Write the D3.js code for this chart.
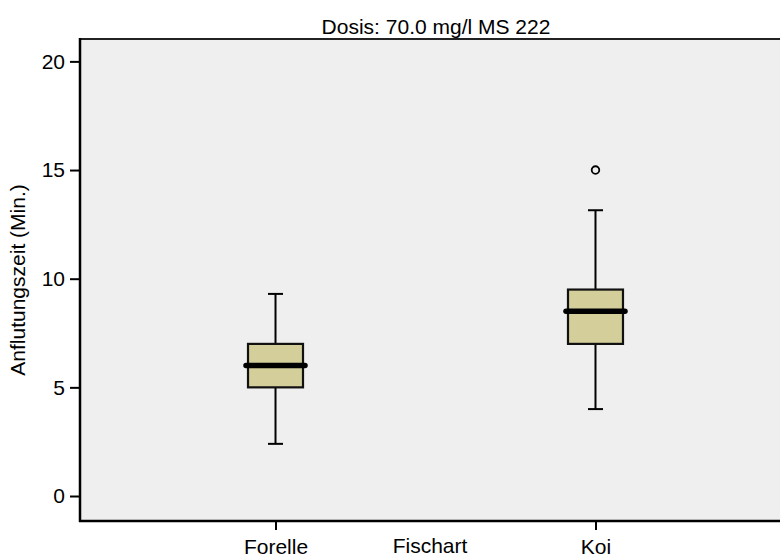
<!DOCTYPE html>
<html>
<head>
<meta charset="utf-8">
<script src="https://cdn.jsdelivr.net/npm/d3@7"></script>
<style>
  html, body { margin: 0; padding: 0; background: #ffffff; }
  svg { display: block; }
  text { font-family: "Liberation Sans", Arial, sans-serif; fill: #000; }
</style>
</head>
<body>
<svg id="chart" width="780" height="558"></svg>
<script>
// Box-plot statistics per fish species (minutes)
const categories   = ["Forelle", "Koi"];
const whiskerLow   = [2.4, 4.0];
const quartile1    = [5.0, 7.0];
const medians      = [6.0, 8.5];
const quartile3    = [7.0, 9.5];
const whiskerHigh  = [9.3, 13.15];
const outliers     = [[], [15.0]];
const yTickValues  = [0, 5, 10, 15, 20];

const titleText = "Dosis: 70.0 mg/l MS 222";
const xTitle = "Fischart";
const yTitle = "Anflutungszeit (Min.)";

const svg = d3.select("#chart");
const plot = { left: 80, right: 780, top: 39, bottom: 521 };
const FS = "21px";

const y = d3.scaleLinear().domain([-1.15, 21.03]).range([plot.bottom, plot.top]);
const x = d3.scalePoint().domain(categories).range([plot.left, 791]).padding(0.611);

// plot background
svg.append("rect")
  .attr("x", plot.left).attr("y", plot.top)
  .attr("width", plot.right - plot.left).attr("height", plot.bottom - plot.top)
  .attr("fill", "#efefef");

// top frame line
svg.append("line")
  .attr("x1", plot.left).attr("x2", plot.right)
  .attr("y1", plot.top).attr("y2", plot.top)
  .attr("stroke", "#222").attr("stroke-width", 2);

// y axis
const yAxis = d3.axisLeft(y).tickValues(yTickValues).tickSize(10).tickPadding(5).tickFormat(d3.format("d"));
const gy = svg.append("g").attr("transform", `translate(${plot.left},0)`).call(yAxis);
gy.select(".domain").remove();
gy.selectAll(".tick line").attr("stroke", "#000").attr("stroke-width", 2);
gy.selectAll(".tick text").style("font-size", FS).attr("font-family", null).attr("fill", "#000");
svg.append("line")
  .attr("x1", plot.left).attr("x2", plot.left)
  .attr("y1", plot.top - 1).attr("y2", plot.bottom + 1)
  .attr("stroke", "#000").attr("stroke-width", 2.5);

// x axis
const xAxis = d3.axisBottom(x).tickSize(9);
const gx = svg.append("g").attr("transform", `translate(0,${plot.bottom})`).call(xAxis);
gx.select(".domain").remove();
gx.selectAll(".tick line").attr("stroke", "#000").attr("stroke-width", 2);
gx.selectAll(".tick text").style("font-size", FS).attr("font-family", null).attr("fill", "#000")
  .attr("y", 32.5).attr("dy", null);
svg.append("line")
  .attr("x1", plot.left - 1).attr("x2", plot.right)
  .attr("y1", plot.bottom).attr("y2", plot.bottom)
  .attr("stroke", "#000").attr("stroke-width", 2.5);

// titles
svg.append("text").attr("x", 436).attr("y", 34)
  .attr("text-anchor", "middle").style("font-size", FS).text(titleText);
svg.append("text").attr("x", 430).attr("y", 552.5)
  .attr("text-anchor", "middle").style("font-size", FS).text(xTitle);
svg.append("text")
  .attr("transform", `translate(25,${(plot.top + plot.bottom) / 2}) rotate(-90)`)
  .attr("text-anchor", "middle").style("font-size", FS).text(yTitle);

// boxes
const boxW = 55, capW = 15, medW = 59;
const rows = categories.map((c, i) => ({
  c, lo: whiskerLow[i], q1: quartile1[i], med: medians[i], q3: quartile3[i], hi: whiskerHigh[i], out: outliers[i]
}));

const b = svg.append("g").selectAll("g.box").data(rows).join("g").attr("class", "box");

// whisker stems
b.append("line")
  .attr("x1", d => x(d.c)).attr("x2", d => x(d.c))
  .attr("y1", d => y(d.lo)).attr("y2", d => y(d.hi))
  .attr("stroke", "#000").attr("stroke-width", 2);
// whisker caps
["lo", "hi"].forEach(k => {
  b.append("line")
    .attr("x1", d => x(d.c) - capW / 2).attr("x2", d => x(d.c) + capW / 2)
    .attr("y1", d => y(d[k])).attr("y2", d => y(d[k]))
    .attr("stroke", "#000").attr("stroke-width", 2);
});
// interquartile box
b.append("rect")
  .attr("x", d => x(d.c) - boxW / 2).attr("width", boxW)
  .attr("y", d => y(d.q3)).attr("height", d => y(d.q1) - y(d.q3))
  .attr("fill", "#d3ce9a").attr("stroke", "#111").attr("stroke-width", 2.2);
// median
b.append("line")
  .attr("x1", d => x(d.c) - medW / 2).attr("x2", d => x(d.c) + medW / 2)
  .attr("y1", d => y(d.med)).attr("y2", d => y(d.med))
  .attr("stroke", "#000").attr("stroke-width", 5.5).attr("stroke-linecap", "round");
// outliers
b.selectAll("circle").data(d => d.out.map(v => ({ c: d.c, v }))).join("circle")
  .attr("cx", d => x(d.c)).attr("cy", d => y(d.v)).attr("r", 3.8)
  .attr("fill", "none").attr("stroke", "#000").attr("stroke-width", 1.8);
</script>
</body>
</html>
